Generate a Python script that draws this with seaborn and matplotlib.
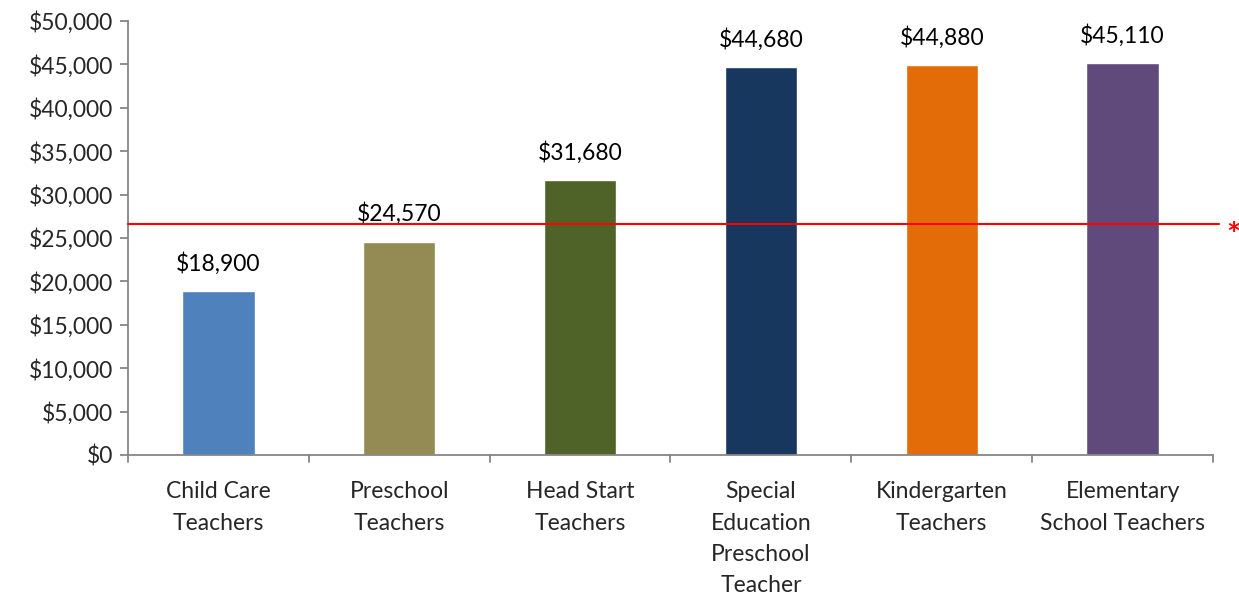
import matplotlib
matplotlib.use("Agg")
import matplotlib.pyplot as plt
import seaborn as sns
import pandas as pd

categories = [
    "Child Care\nTeachers",
    "Preschool\nTeachers",
    "Head Start\nTeachers",
    "Special\nEducation\nPreschool\nTeacher",
    "Kindergarten\nTeachers",
    "Elementary\nSchool Teachers",
]
salaries = [18900, 24570, 31680, 44680, 44880, 45110]
bar_colors = ["#4F81BD", "#948A54", "#4F6228", "#17375E", "#E36C09", "#604A7B"]
reference_line = 26650
y_ticks = list(range(0, 50001, 5000))

sns.set_theme(style="white")
plt.rcParams["font.family"] = ["Lato", "DejaVu Sans"]
FS = 16.5

df = pd.DataFrame({"occupation": categories, "salary": salaries})

fig = plt.figure(figsize=(12.39, 5.96), dpi=100)
ax = fig.add_axes([128 / 1239, 1 - 455 / 596, (1213 - 128) / 1239, (455 - 21) / 596])

sns.barplot(data=df, x="occupation", y="salary", hue="occupation",
            palette=bar_colors, width=0.4, saturation=1, legend=False, ax=ax)

for i, v in enumerate(salaries):
    ax.text(i, v + 1900, f"${v:,.0f}", ha="center", va="bottom", fontsize=FS, color="black")

ax.set_ylim(0, 50000)
ax.set_xlim(-0.5, len(categories) - 0.5)
ax.set_yticks(y_ticks)
ax.set_yticklabels([f"${t:,.0f}" for t in y_ticks], fontsize=FS)
ax.set_xlabel("")
ax.set_ylabel("")
ax.tick_params(axis="x", length=0, pad=19, labelsize=FS)
for lab in ax.get_xticklabels():
    lab.set_linespacing(1.6)
ax.tick_params(axis="y", left=True, length=6, width=1.3, color="#868686", pad=5)

# category separators on the x axis
for b in [i - 0.5 for i in range(len(categories) + 1)]:
    ax.plot([b, b], [0, -0.016], transform=ax.get_xaxis_transform(),
            color="#868686", lw=1.3, clip_on=False)

for side in ["top", "right"]:
    ax.spines[side].set_visible(False)
for side in ["left", "bottom"]:
    ax.spines[side].set_color("#868686")
    ax.spines[side].set_linewidth(1.3)

ax.plot([-0.5, len(categories) - 0.5 + 0.035], [reference_line, reference_line],
        color="#FF0000", lw=1.5, clip_on=False, zorder=5)
ax.text(len(categories) - 0.5 + 0.115, reference_line - 1500, "*", color="#FF0000",
        fontsize=24, fontweight="bold", ha="center", va="center")

fig.savefig("out.png", dpi=100)
